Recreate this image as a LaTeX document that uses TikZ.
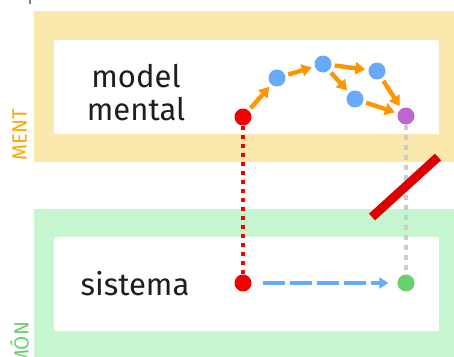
\documentclass[tikz,border=0pt]{standalone}
\usepackage{fontspec}
\setmainfont{Fira Sans}
\usetikzlibrary{arrows.meta}

\definecolor{mentbg}{RGB}{250,232,172}
\definecolor{monbg}{RGB}{198,246,208}
\definecolor{dotred}{RGB}{245,0,0}
\definecolor{dotblue}{RGB}{104,170,250}
\definecolor{dotpurple}{RGB}{190,102,208}
\definecolor{dotgreen}{RGB}{104,208,112}
\definecolor{steporange}{RGB}{255,150,0}
\definecolor{barred}{RGB}{222,0,0}
\definecolor{linkgray}{RGB}{204,204,204}
\definecolor{txt}{RGB}{30,30,30}

\begin{document}
\begin{tikzpicture}[x=1pt, y=-1pt,
    dot/.style={circle, fill=#1, minimum size=17pt, inner sep=0pt},
    label/.style={text=txt, font=\fontsize{31}{33}\selectfont, anchor=base, inner sep=0pt},
    side/.style={text=#1, font=\fontsize{20.5}{20.5}\selectfont, rotate=90, anchor=west, inner sep=0pt},
    hop/.style={steporange, line width=4.4pt, shorten <=3pt, shorten >=3pt,
      -{Triangle[length=10pt, width=12pt]}}]
  \useasboundingbox (0,0) rectangle (454,356);

  % two bands, each with a white panel
  \fill[mentbg] (34,11) rectangle (480,162);
  \fill[white] (54,40) rectangle (439,134);
  \fill[monbg] (34,209) rectangle (480,400);
  \fill[white] (54,237) rectangle (439,331);
  \draw[gray, line width=1.5pt] (30,-2) -- (30,4);

  \node (ment) at (19.5,161) [side=steporange!85!yellow] {MENT};
  \node (mon) at (19.5,366) [side=dotgreen] {MÓN};

  \node (mm1) at (136,87) [label] {model};
  \node (mm2) at (136,120) [label] {mental};
  \node (sis) at (135,295) [label] {sistema};

  \node (rt) at (243,117) [dot=dotred] {};
  \node (b1) at (277,78) [dot=dotblue] {};
  \node (b2) at (323,64) [dot=dotblue] {};
  \node (b3) at (377,71) [dot=dotblue] {};
  \node (b4) at (355,99) [dot=dotblue] {};
  \node (pt) at (406,116) [dot=dotpurple] {};
  \node (rb) at (243,283) [dot=dotred] {};
  \node (gb) at (406,283) [dot=dotgreen] {};

  \draw[dotred, line width=4.5pt, dash pattern=on 4.5pt off 4.5pt] (rt) -- (rb);
  \draw[linkgray, line width=4pt, dash pattern=on 5pt off 5pt] (pt) -- (gb);
  \draw[dotblue, line width=4pt, dash pattern=on 22pt off 5pt,
    shorten <=11pt, shorten >=9pt, -{Triangle[length=9pt, width=11pt]}] (rb) -- (gb);

  \draw[hop] (rt) -- (b1);
  \draw[hop] (b1) -- (b2);
  \draw[hop] (b2) -- (b3);
  \draw[hop] (b2) -- (b4);
  \draw[hop] (b3) -- (pt);
  \draw[hop] (b4) -- (pt);

  \coordinate (x1) at (372,217);
  \coordinate (x2) at (438,157);
  \draw[barred, line width=9pt] (x1) -- (x2);
\end{tikzpicture}
\end{document}
